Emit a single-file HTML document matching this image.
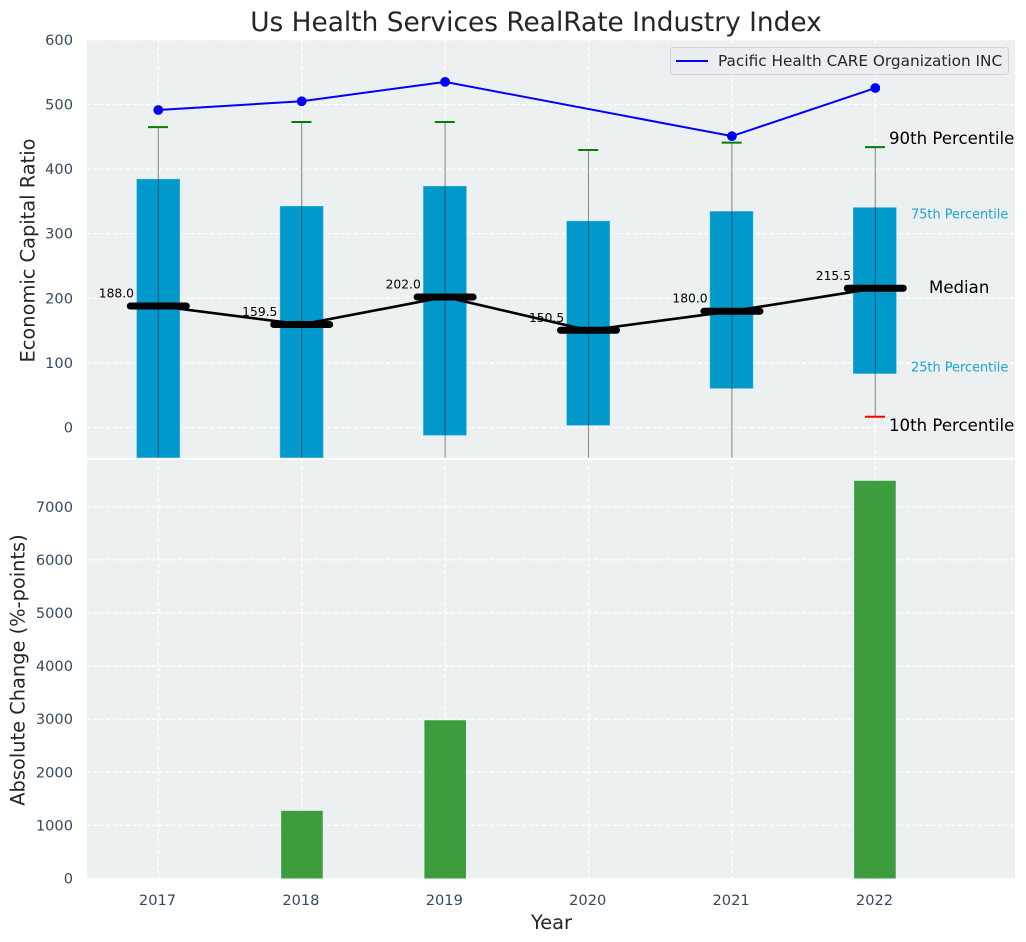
<!DOCTYPE html>
<html lang="en">
<head>
<meta charset="utf-8">
<title>Us Health Services RealRate Industry Index</title>
<style>
html,body{margin:0;padding:0;background:#fff;}
svg{display:block;font-family:"DejaVu Sans","Liberation Sans",sans-serif;}
</style>
</head>
<body>
<svg id="chart" width="1026" height="942" viewBox="0 0 1026 942" xmlns="http://www.w3.org/2000/svg">
<defs>
<clipPath id="clip-top"><rect x="87" y="40" width="928" height="417.8"></rect></clipPath>
<clipPath id="clip-bottom"><rect x="87" y="459.7" width="928" height="418.8"></rect></clipPath>
</defs>
</svg>
<script>
const years = ['2017', '2018', '2019', '2020', '2021', '2022'];
const p90 = [465, 473, 473, 429.5, 441, 434];
const p75 = [384.5, 342.5, 373.5, 319.5, 334.5, 340.5];
const medians = [188.0, 159.5, 202.0, 150.5, 180.0, 215.5];
const p25 = [-70, -60, -12, 3.5, 60.5, 83.5];
const p10 = [-150, -140, -120, -110, -90, 16.7];
const companyValues = [491.5, 505, 535, null, 451, 525.5];
const absoluteChange = [0, 1275, 2980, 0, 0, 7490];
const topTicks = [0, 100, 200, 300, 400, 500, 600];
const bottomTicks = [0, 1000, 2000, 3000, 4000, 5000, 6000, 7000];

const NS = 'http://www.w3.org/2000/svg';
const svg = document.getElementById('chart');
const xAt = function (i) { return 158.3 + 143.4 * i; };
const yTop = function (v) { return 427.5 - v * 0.646; };
const yBottom = function (v) { return 878.5 - v * 0.0531; };

function make(tag, attrs, parent, content) {
  const el = document.createElementNS(NS, tag);
  Object.keys(attrs).forEach(function (k) { el.setAttribute(k, attrs[k]); });
  if (content !== undefined) el.textContent = content;
  (parent || svg).appendChild(el);
  return el;
}
let el;

// panel backgrounds
el = make('rect', {x: 87, y: 40, width: 928, height: 417.8, fill: '#ecf0f1'});


el = make('rect', {x: 87, y: 459.7, width: 928, height: 418.8, fill: '#ecf0f1'});



const gridTop = make('g', {'clip-path': 'url(#clip-top)', stroke: '#fff', 'stroke-width': 1.2, 'stroke-dasharray': '4 2.5'});


const gridBottom = make('g', {'clip-path': 'url(#clip-bottom)', stroke: '#fff', 'stroke-width': 1.2, 'stroke-dasharray': '4 2.5'});



topTicks.forEach(function (t) {
  make('line', {x1: 87, x2: 1015, y1: yTop(t), y2: yTop(t)}, gridTop);
  el = make('text', {x: 73, y: yTop(t) + 5, 'text-anchor': 'end', 'font-size': 14.6, fill: '#34495e'}, svg, String(t));
  
  
});
bottomTicks.forEach(function (t) {
  make('line', {x1: 87, x2: 1015, y1: yBottom(t), y2: yBottom(t)}, gridBottom);
  el = make('text', {x: 73, y: yBottom(t) + 5, 'text-anchor': 'end', 'font-size': 14.6, fill: '#34495e'}, svg, String(t));
  
  
});
years.forEach(function (y, i) {
  make('line', {x1: xAt(i), x2: xAt(i), y1: 40, y2: 458}, gridTop);
  make('line', {x1: xAt(i), x2: xAt(i), y1: 459.5, y2: 878.5}, gridBottom);
  el = make('text', {x: xAt(i) - 0.8, y: 905, 'text-anchor': 'middle', 'font-size': 14.6, fill: '#34495e'}, svg, y);
  
  
});

const topMarks = make('g', {'clip-path': 'url(#clip-top)'});


const bottomMarks = make('g', {'clip-path': 'url(#clip-bottom)'});



// boxes
years.forEach(function (y, i) {
  el = make('rect', {x: xAt(i) - 21.5 - 0.1 * i, width: 43, y: yTop(p75[i]), height: yTop(p25[i]) - yTop(p75[i]), fill: '#0099cc', stroke: '#4fb6d8', 'stroke-width': 0.5}, topMarks);
  
  
});
// whiskers and caps
years.forEach(function (y, i) {
  el = make('line', {x1: xAt(i), x2: xAt(i), y1: yTop(p90[i]), y2: yTop(p10[i]), stroke: '#222', 'stroke-opacity': 0.5, 'stroke-width': 1.1}, topMarks);
  
  
  el = make('line', {x1: xAt(i) - 10.3, x2: xAt(i) + 9.7, y1: yTop(p90[i]), y2: yTop(p90[i]), stroke: '#008000', 'stroke-width': 2}, topMarks);
  
  
  el = make('line', {x1: xAt(i) - 10.3, x2: xAt(i) + 9.7, y1: yTop(p10[i]), y2: yTop(p10[i]), stroke: '#ff0000', 'stroke-width': 2}, topMarks);
  
  
});
// median connecting line
el = make('polyline', {points: medians.map(function (m, i) { return xAt(i) + ',' + yTop(m); }).join(' '), fill: 'none', stroke: '#000', 'stroke-width': 2.6}, topMarks);


// median bars and labels
medians.forEach(function (m, i) {
  el = make('line', {x1: xAt(i) - 28, x2: xAt(i) + 28, y1: yTop(m), y2: yTop(m), stroke: '#000', 'stroke-width': 7, 'stroke-linecap': 'round'}, topMarks);
  
  
  el = make('text', {x: xAt(i) - 24.3, y: yTop(m) - 8.5, 'text-anchor': 'end', 'font-size': 12.3, fill: '#000'}, svg, m.toFixed(1));
  
  
});
// company line
const companyPts = companyValues.map(function (v, i) { return v === null ? null : [xAt(i), yTop(v)]; }).filter(Boolean);
el = make('polyline', {points: companyPts.map(function (p) { return p.join(','); }).join(' '), fill: 'none', stroke: '#0000ff', 'stroke-width': 2}, topMarks);


companyValues.forEach(function (v, i) {
  if (v === null) return;
  el = make('circle', {cx: xAt(i), cy: yTop(v), r: 4.9, fill: '#0000ff'}, topMarks);
  
  
});
// change bars
absoluteChange.forEach(function (v, i) {
  if (!v) return;
  el = make('rect', {x: xAt(i) - 20.4 - 0.15 * i, width: 41.6, y: yBottom(v), height: yBottom(0) - yBottom(v), fill: '#2e962f', 'fill-opacity': 0.92}, bottomMarks);
  
  
});

// annotations
el = make('text', {x: 889, y: 144, 'font-size': 16.6, fill: '#000'}, svg, '90th Percentile');


el = make('text', {x: 911, y: 218.5, 'font-size': 12.9, fill: '#1aa3d1'}, svg, '75th Percentile');


el = make('text', {x: 929, y: 293, 'font-size': 16.6, fill: '#000'}, svg, 'Median');


el = make('text', {x: 911, y: 371.5, 'font-size': 12.9, fill: '#1aa3d1'}, svg, '25th Percentile');


el = make('text', {x: 889, y: 431, 'font-size': 16.6, fill: '#000'}, svg, '10th Percentile');



// legend
const legend = make('g', {});


el = make('rect', {x: 670.5, y: 47.5, width: 338, height: 27, rx: 3, fill: '#ebedf1', stroke: '#cfd2d6'}, legend);


el = make('line', {x1: 676, x2: 708, y1: 61, y2: 61, stroke: '#0000ff', 'stroke-width': 2}, legend);


el = make('text', {x: 718, y: 66, 'font-size': 15.3, fill: '#262626'}, legend, 'Pacific Health CARE Organization INC');



// titles
el = make('text', {x: 536, y: 31, 'text-anchor': 'middle', 'font-size': 26.4, fill: '#262626'}, svg, 'Us Health Services RealRate Industry Index');


el = make('text', {x: 551.5, y: 929, 'text-anchor': 'middle', 'font-size': 19.4, fill: '#262626'}, svg, 'Year');


el = make('text', {transform: 'translate(34.5,250.5) rotate(-90)', 'text-anchor': 'middle', 'font-size': 19.4, fill: '#262626'}, svg, 'Economic Capital Ratio');


el = make('text', {transform: 'translate(24.5,670) rotate(-90)', 'text-anchor': 'middle', 'font-size': 19.4, fill: '#262626'}, svg, 'Absolute Change (%-points)');


</script>
</body>
</html>
